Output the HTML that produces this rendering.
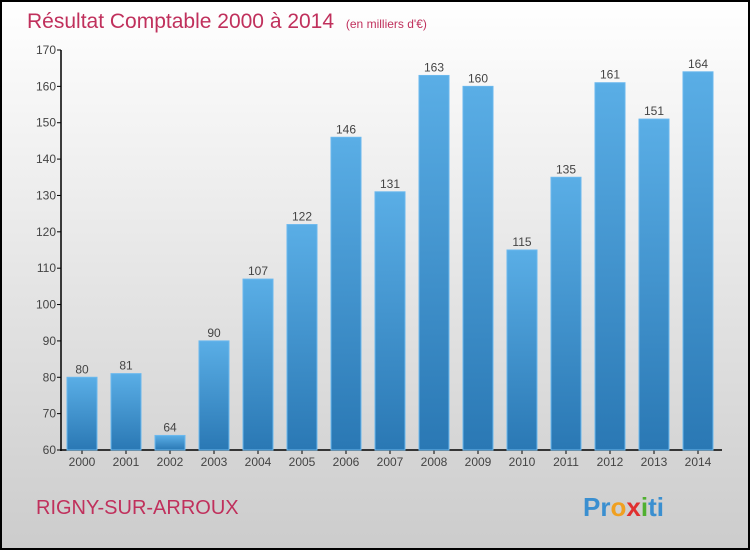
<!DOCTYPE html>
<html><head><meta charset="utf-8"><style>
body{margin:0;width:750px;height:550px;overflow:hidden;font-family:"Liberation Sans",sans-serif;}
</style></head><body>
<svg width="750" height="550" xmlns="http://www.w3.org/2000/svg">
<defs>
<linearGradient id="bg" x1="0" y1="0" x2="0" y2="1"><stop offset="0" stop-color="#ffffff"/><stop offset="1" stop-color="#cccccc"/></linearGradient>
<linearGradient id="bar" x1="0" y1="0" x2="0" y2="1"><stop offset="0" stop-color="#5aaee6"/><stop offset="1" stop-color="#2a78b4"/></linearGradient>
</defs>
<rect x="1" y="1" width="748" height="548" fill="url(#bg)" stroke="#000" stroke-width="2"/>
<text x="27" y="28" font-size="21" fill="#c0305c">Résultat Comptable 2000 à 2014 <tspan font-size="12" dx="6">(en milliers d'€)</tspan></text>
<g id="axes"></g>
<g id="bars"></g>
<text x="36" y="514" font-size="20" fill="#c0305c">RIGNY-SUR-ARROUX</text>
<text x="583" y="516" font-size="26" font-weight="bold"><tspan fill="#3a8fd0">Pr</tspan><tspan fill="#f0a020">o</tspan><tspan fill="#e03030">x</tspan><tspan fill="#50b030">i</tspan><tspan fill="#3a8fd0">ti</tspan></text>
</svg>
<script>
const years=["2000","2001","2002","2003","2004","2005","2006","2007","2008","2009","2010","2011","2012","2013","2014"];
const values=[80,81,64,90,107,122,146,131,163,160,115,135,161,151,164];
const yTicks=[60,70,80,90,100,110,120,130,140,150,160,170];
const NS="http://www.w3.org/2000/svg";
const y=v=>450-(v-60)*400/110;
const x=i=>82+i*44;
function mk(t,a,p){const e=document.createElementNS(NS,t);for(const k in a)e.setAttribute(k,a[k]);p.appendChild(e);return e;}
const ax=document.getElementById('axes'),bg=document.getElementById('bars');
let l=mk('line',{x1:61,y1:50,x2:61,y2:451,stroke:'#000','stroke-width':1.5},ax);


l=mk('line',{x1:60,y1:450,x2:722,y2:450,stroke:'#000','stroke-width':1.5},ax);


yTicks.forEach(v=>{
 mk('line',{x1:57,y1:y(v),x2:61,y2:y(v),stroke:'#000'},ax);
 const t=mk('text',{x:56,y:y(v)+4,'text-anchor':'end','font-size':12,fill:'#444'},ax);
 t.textContent=v;
 
 
});
years.forEach((yr,i)=>{
 mk('line',{x1:x(i),y1:450,x2:x(i),y2:454,stroke:'#000'},ax);
 const t=mk('text',{x:x(i),y:466,'text-anchor':'middle','font-size':12,fill:'#444'},ax);
 t.textContent=yr;
 
 
 const r=mk('rect',{x:x(i)-15,y:y(values[i]),width:30,height:450-y(values[i]),fill:'url(#bar)',stroke:'#6ab8ee','stroke-width':1},bg);
 
 
 const v=mk('text',{x:x(i),y:y(values[i])-4,'text-anchor':'middle','font-size':12,fill:'#444'},bg);
 v.textContent=values[i];
 
 
});
</script>
</body></html>
